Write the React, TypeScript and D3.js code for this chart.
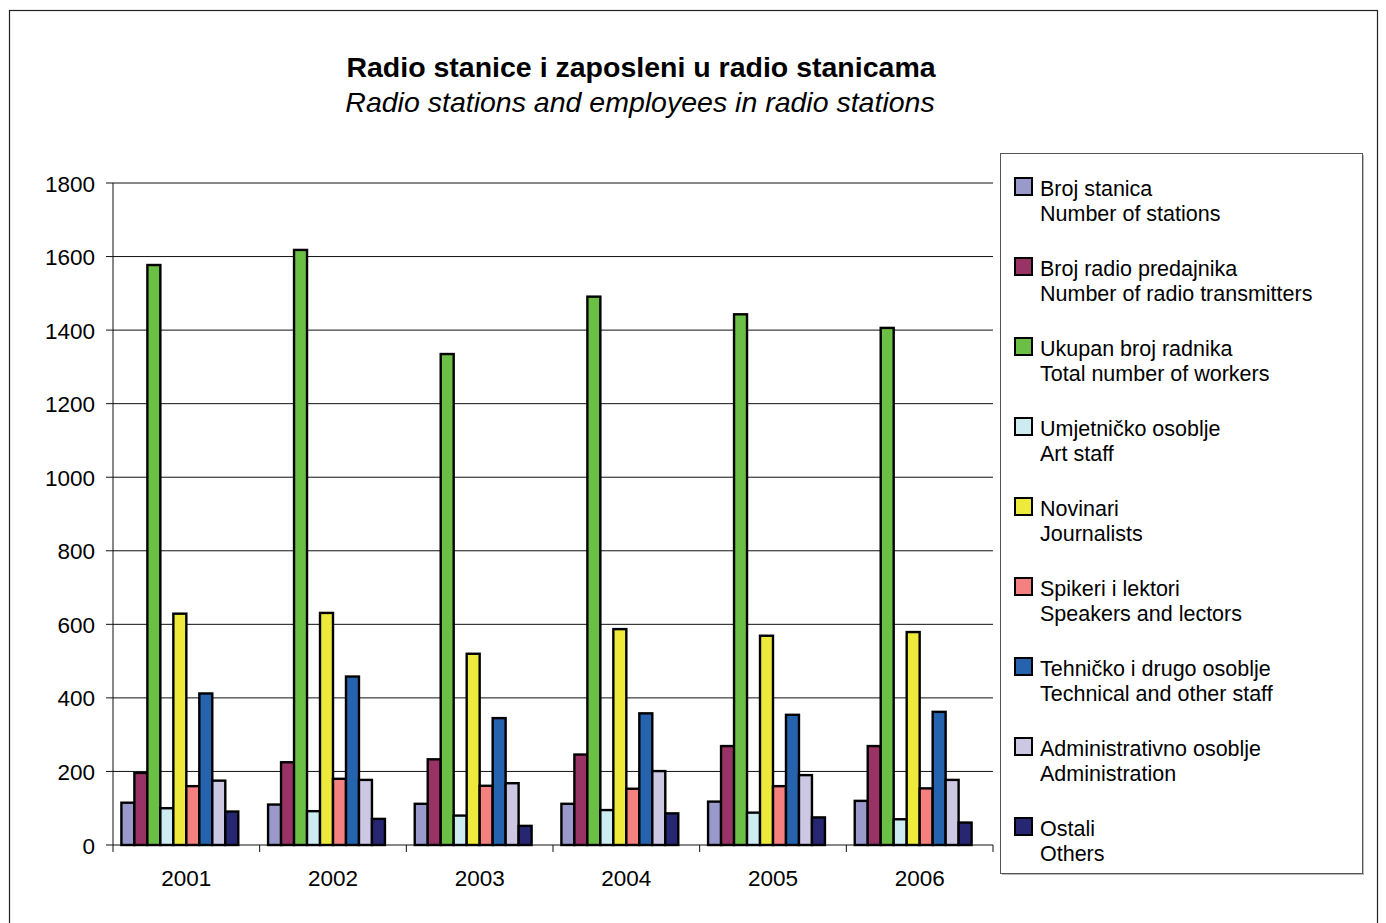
import * as d3 from "d3";

const years = ["2001", "2002", "2003", "2004", "2005", "2006"];

const seriesLabels = [
  ["Broj stanica", "Number of stations"],
  ["Broj radio predajnika", "Number of radio transmitters"],
  ["Ukupan broj radnika", "Total number of workers"],
  ["Umjetničko osoblje", "Art staff"],
  ["Novinari", "Journalists"],
  ["Spikeri i lektori", "Speakers and lectors"],
  ["Tehničko i drugo osoblje", "Technical and other staff"],
  ["Administrativno osoblje", "Administration"],
  ["Ostali", "Others"],
];

const stations = [115, 110, 112, 112, 118, 120];
const transmitters = [196, 225, 233, 246, 269, 269];
const totalWorkers = [1577, 1618, 1335, 1491, 1443, 1406];
const artStaff = [100, 92, 80, 95, 88, 70];
const journalists = [629, 631, 520, 587, 569, 579];
const speakers = [160, 180, 161, 153, 160, 154];
const technical = [412, 458, 345, 358, 354, 362];
const administration = [175, 177, 168, 201, 190, 177];
const others = [91, 71, 52, 86, 75, 61];
// unnamed tenth column, only an empty bar in 2001
const blank: (number | null)[] = [0, null, null, null, null, null];

const seriesValues: (number | null)[][] = [
  stations,
  transmitters,
  totalWorkers,
  artStaff,
  journalists,
  speakers,
  technical,
  administration,
  others,
  blank,
];

const colors = ["#9999cc", "#993366", "#6cbf45", "#cdecf2", "#eeea3c", "#f48080", "#2563ae", "#ccc8e4", "#262672", "#ffffff"];

const yTicks = [0, 200, 400, 600, 800, 1000, 1200, 1400, 1600, 1800];

const plot = { left: 113, right: 993, top: 183, bottom: 845 };
const font = "'Liberation Sans', Arial, sans-serif";

export default function App() {
  const x = d3.scaleBand().domain(years).range([plot.left, plot.right]).padding(0);
  const gap = 8.4;
  const x1 = d3
    .scaleBand<number>()
    .domain(d3.range(seriesValues.length))
    .range([gap, x.bandwidth() - gap])
    .padding(0);
  const y = d3.scaleLinear().domain([0, 1800]).range([plot.bottom, plot.top]);

  const legendX = 1000;
  const legendY = 153;

  return (
    <svg width={1386} height={923} style={{ position: "absolute", left: 0, top: 0, background: "#fff" }} fontFamily={font}>
      <rect x={9.5} y={10.5} width={1368} height={930} fill="#fff" stroke="#222" strokeWidth={1.2} />

      <text x={641} y={77} textAnchor="middle" fontSize={28.5} fontWeight="bold" fill="#000">
        Radio stanice i zaposleni u radio stanicama
      </text>
      <text x={640} y={112} textAnchor="middle" fontSize={28.5} fontStyle="italic" fill="#000">
        Radio stations and employees in radio stations
      </text>

      {yTicks.map((t) => (
        <g key={t}>
          <line x1={plot.left} x2={plot.right} y1={y(t)} y2={y(t)} stroke="#111" strokeWidth={1} />
          <line x1={plot.left - 7} x2={plot.left} y1={y(t)} y2={y(t)} stroke="#111" strokeWidth={1} />
          <text x={95} y={y(t) + 8.5} textAnchor="end" fontSize={22.5} fill="#000">
            {t}
          </text>
        </g>
      ))}
      <line x1={plot.left} x2={plot.left} y1={plot.top} y2={plot.bottom} stroke="#111" strokeWidth={1} />

      {years.map((yr, i) => (
        <g key={yr}>
          <line x1={x(yr)!} x2={x(yr)!} y1={plot.bottom} y2={plot.bottom + 7} stroke="#111" />
          {i === years.length - 1 ? (
            <line x1={plot.right} x2={plot.right} y1={plot.bottom} y2={plot.bottom + 7} stroke="#111" />
          ) : null}
          <text x={x(yr)! + x.bandwidth() / 2} y={886} textAnchor="middle" fontSize={22.5} fill="#000">
            {yr}
          </text>
        </g>
      ))}

      {seriesValues.map((vals, si) =>
        vals.map((v, yi) =>
          v == null ? null : (
            <rect
              key={`${si}-${yi}`}
              x={x(years[yi])! + x1(si)!}
              y={y(v)}
              width={x1.bandwidth()}
              height={y(0) - y(v)}
              fill={colors[si]}
              stroke="#000"
              strokeWidth={2.4}
            />
          ),
        ),
      )}

      <rect x={legendX + 2} y={legendY + 2} width={362} height={720} fill="#bbb" />
      <rect x={legendX + 0.5} y={legendY + 0.5} width={362} height={720} fill="#fff" stroke="#555" strokeWidth={1} />
      {seriesLabels.map((lbl, i) => {
        const ty = legendY + 43 + i * 80;
        return (
          <g key={lbl[0]}>
            <rect x={legendX + 15} y={ty - 18} width={17} height={17} fill={colors[i]} stroke="#000" strokeWidth={2} />
            <text x={legendX + 40} y={ty} fontSize={21.5} fill="#000">
              {lbl[0]}
            </text>
            <text x={legendX + 40} y={ty + 25} fontSize={21.5} fill="#000">
              {lbl[1]}
            </text>
          </g>
        );
      })}
    </svg>
  );
}
